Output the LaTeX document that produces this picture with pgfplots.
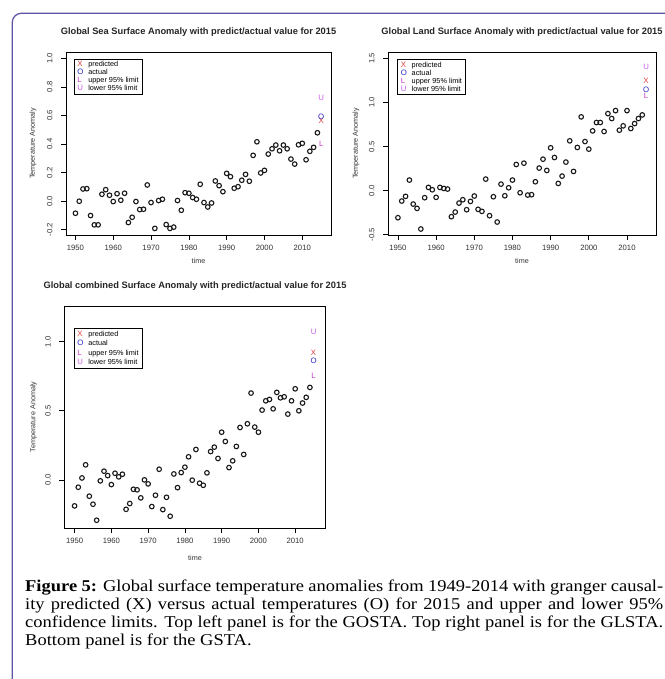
\documentclass[border=0pt]{standalone}
\usepackage{pgfplots}
\pgfplotsset{compat=1.18}
\usepackage{fontspec}
\setmainfont{Liberation Sans}
\newfontfamily\capfont[FakeStretch=1.12]{Liberation Serif}
\definecolor{framec}{RGB}{92,84,164}
\definecolor{predc}{RGB}{224,60,60}
\definecolor{actc}{RGB}{40,40,200}
\definecolor{lowc}{RGB}{210,60,210}
\definecolor{upc}{RGB}{200,90,235}
\pgfplotsset{
 rplot/.style={
  scale only axis,
  axis line style={line width=0.9pt},
  tick align=outside, major tick length=5pt,
  tick style={black, line width=0.7pt},
  xtick={1950,1960,1970,1980,1990,2000,2010},
  xticklabels={1950,1960,1970,1980,1990,2000,2010},
  xtick pos=bottom, ytick pos=left,
  tick label style={font=\fontsize{7.7}{8}\selectfont, text=black!80},
  xticklabel style={anchor=north, inner xsep=0pt, inner ysep=5.3pt},
  yticklabel style={rotate=90, anchor=south, inner xsep=0pt, inner ysep=8.3pt},
  title style={anchor=base, inner sep=0pt, yshift=11.5pt, font=\bfseries\fontsize{9.3}{10}\selectfont, text=black!85},
  xlabel={time}, ylabel={Temperature Anomaly},
  label style={font=\fontsize{7.2}{8}\selectfont, text=black!80},
  legend cell align=left,
  legend image code/.code={\draw[#1] plot coordinates {(0pt,0pt)};},
  legend style={draw=black, line width=0.9pt, font=\fontsize{7.3}{8}\selectfont,
    inner xsep=3pt, inner ysep=1.5pt, row sep=0pt, column sep=4.2pt,
    nodes={inner sep=0.6pt}},
 },
 datapts/.style={only marks, mark=o, mark size=2.3pt, black!90, mark options={line width=1.1pt}, forget plot},
 lett/.style 2 args={only marks, #2, mark=text, text mark={#1}, text mark as node=true,
   text mark style={font=\fontsize{7.8}{8}\selectfont, inner sep=0pt, text=#2}},
}
\begin{document}
\begin{tikzpicture}
\useasboundingbox (0pt,0pt) rectangle (664pt,679pt);
\fill[white] (0pt,0pt) rectangle (664pt,679pt);
\draw[framec, line width=1.2pt, rounded corners=9pt] (12.3pt,-20pt) -- (12.3pt,665.7pt) -- (700pt,665.7pt);

% ---------- Panel 1: Sea ----------
\begin{axis}[rplot, at={(66pt,444pt)}, anchor=south west, width=265pt, height=183pt,
  xmin=1947.5, xmax=2017.6, ymin=-0.236, ymax=1.044,
  ytick={-0.2,0,0.2,0.4,0.6,0.8,1.0},
  yticklabels={-0.2,0.0,0.2,0.4,0.6,0.8,1.0},
  title={Global Sea Surface Anomaly with predict/actual value for 2015},
  xlabel style={at={(axis description cs:0.5,-0.142)}, anchor=center},
  ylabel style={at={(axis description cs:-0.1245,0.5)}, anchor=center},
  legend style={at={(axis description cs:0.030,0.962)}, anchor=north west}]
\addplot[datapts] table {
1950 -0.084
1951 0.000
1952 0.086
1953 0.088
1954 -0.100
1955 -0.165
1956 -0.165
1957 0.049
1958 0.081
1959 0.042
1960 -0.002
1961 0.053
1962 0.007
1963 0.056
1964 -0.149
1965 -0.112
1966 -0.002
1967 -0.058
1968 -0.056
1969 0.114
1970 -0.009
1971 -0.190
1972 0.005
1973 0.014
1974 -0.163
1975 -0.190
1976 -0.181
1977 0.005
1978 -0.063
1979 0.060
1980 0.056
1981 0.026
1982 0.014
1983 0.119
1984 -0.009
1985 -0.040
1986 -0.012
1987 0.142
1988 0.109
1989 0.067
1990 0.195
1991 0.172
1992 0.091
1993 0.102
1994 0.147
1995 0.188
1996 0.140
1997 0.321
1998 0.416
1999 0.198
2000 0.216
2001 0.330
2002 0.367
2003 0.393
2004 0.353
2005 0.393
2006 0.367
2007 0.295
2008 0.260
2009 0.395
2010 0.405
2011 0.290
2012 0.349
2013 0.377
2014 0.479
};
\addplot[lett={X}{predc}] coordinates {(2015,0.562)};
\addlegendentry{predicted}
\addplot[lett={O}{actc}] coordinates {(2015,0.594)};
\addlegendentry{actual}
\addplot[lett={L}{lowc}] coordinates {(2015,0.402)};
\addlegendentry{upper 95\% limit}
\addplot[lett={U}{upc}] coordinates {(2015,0.726)};
\addlegendentry{lower 95\% limit}
\end{axis}

% ---------- Panel 2: Land ----------
\begin{axis}[rplot, at={(388pt,444pt)}, anchor=south west, width=268pt, height=183pt,
  xmin=1947.4, xmax=2017.6, ymin=-0.502, ymax=1.574,
  ytick={-0.5,0,0.5,1.0,1.5},
  yticklabels={-0.5,0.0,0.5,1.0,1.5},
  title={Global Land Surface Anomaly with predict/actual value for 2015},
  xlabel style={at={(axis description cs:0.5,-0.142)}, anchor=center},
  ylabel style={at={(axis description cs:-0.119,0.5)}, anchor=center},
  legend style={at={(axis description cs:0.035,0.960)}, anchor=north west}]
\addplot[datapts] table {
1950 -0.306
1951 -0.117
1952 -0.064
1953 0.121
1954 -0.151
1955 -0.200
1956 -0.434
1957 -0.079
1958 0.038
1959 0.011
1960 -0.075
1961 0.038
1962 0.026
1963 0.019
1964 -0.294
1965 -0.242
1966 -0.140
1967 -0.102
1968 -0.215
1969 -0.121
1970 -0.060
1971 -0.211
1972 -0.234
1973 0.132
1974 -0.283
1975 -0.068
1976 -0.355
1977 0.075
1978 -0.057
1979 0.034
1980 0.121
1981 0.298
1982 -0.023
1983 0.313
1984 -0.049
1985 -0.045
1986 0.102
1987 0.257
1988 0.358
1989 0.230
1990 0.487
1991 0.377
1992 0.083
1993 0.166
1994 0.325
1995 0.566
1996 0.219
1997 0.491
1998 0.838
1999 0.558
2000 0.472
2001 0.679
2002 0.774
2003 0.774
2004 0.672
2005 0.875
2006 0.819
2007 0.909
2008 0.687
2009 0.736
2010 0.909
2011 0.706
2012 0.762
2013 0.819
2014 0.860
};
\addplot[lett={X}{predc}] coordinates {(2015,1.245)};
\addlegendentry{predicted}
\addplot[lett={O}{actc}] coordinates {(2015,1.150)};
\addlegendentry{actual}
\addplot[lett={L}{lowc}] coordinates {(2015,1.072)};
\addlegendentry{upper 95\% limit}
\addplot[lett={U}{upc}] coordinates {(2015,1.400)};
\addlegendentry{lower 95\% limit}
\end{axis}

% ---------- Panel 3: Combined ----------
\begin{axis}[rplot, at={(64.3pt,151pt)}, anchor=south west, width=261.4pt, height=222pt,
  xmin=1947.2, xmax=2018.3, ymin=-0.348, ymax=1.258,
  ytick={0,0.5,1.0},
  yticklabels={0.0,0.5,1.0},
  title={Global combined Surface Anomaly with predict/actual value for 2015},
  xlabel style={at={(axis description cs:0.5,-0.135)}, anchor=center},
  ylabel style={at={(axis description cs:-0.118,0.5)}, anchor=center},
  legend style={at={(axis description cs:0.037,0.900)}, anchor=north west, row sep=1.3pt, inner ysep=2pt}]
\addplot[datapts] table {
1950 -0.188
1951 -0.053
1952 0.014
1953 0.109
1954 -0.118
1955 -0.176
1956 -0.292
1957 -0.007
1958 0.063
1959 0.031
1960 -0.034
1961 0.048
1962 0.022
1963 0.041
1964 -0.213
1965 -0.171
1966 -0.068
1967 -0.072
1968 -0.130
1969 0.000
1970 -0.029
1971 -0.193
1972 -0.111
1973 0.077
1974 -0.215
1975 -0.126
1976 -0.263
1977 0.043
1978 -0.056
1979 0.053
1980 0.092
1981 0.167
1982 -0.002
1983 0.220
1984 -0.024
1985 -0.039
1986 0.051
1987 0.205
1988 0.237
1989 0.155
1990 0.345
1991 0.278
1992 0.089
1993 0.138
1994 0.242
1995 0.379
1996 0.184
1997 0.406
1998 0.628
1999 0.382
2000 0.345
2001 0.505
2002 0.572
2003 0.582
2004 0.514
2005 0.633
2006 0.594
2007 0.601
2008 0.476
2009 0.572
2010 0.659
2011 0.500
2012 0.556
2013 0.597
2014 0.669
};
\addplot[lett={X}{predc}] coordinates {(2015,0.920)};
\addlegendentry{predicted}
\addplot[lett={O}{actc}] coordinates {(2015,0.862)};
\addlegendentry{actual}
\addplot[lett={L}{lowc}] coordinates {(2015,0.754)};
\addlegendentry{upper 95\% limit}
\addplot[lett={U}{upc}] coordinates {(2015,1.070)};
\addlegendentry{lower 95\% limit}
\end{axis}

% ---------- Caption ----------
\node[anchor=base west, inner sep=0pt] at (25pt,87.3pt) {\parbox[t]{638pt}{\capfont\fontsize{16.5}{18}\selectfont
\textbf{Figure 5:} Global surface temperature anomalies from 1949-2014 with granger causal-\linebreak
ity predicted (X) versus actual temperatures (O) for 2015 and upper and lower 95\%\linebreak
confidence limits. Top left panel is for the GOSTA. Top right panel is for the GLSTA.\linebreak
Bottom panel is for the GSTA.}};
\end{tikzpicture}
\end{document}
